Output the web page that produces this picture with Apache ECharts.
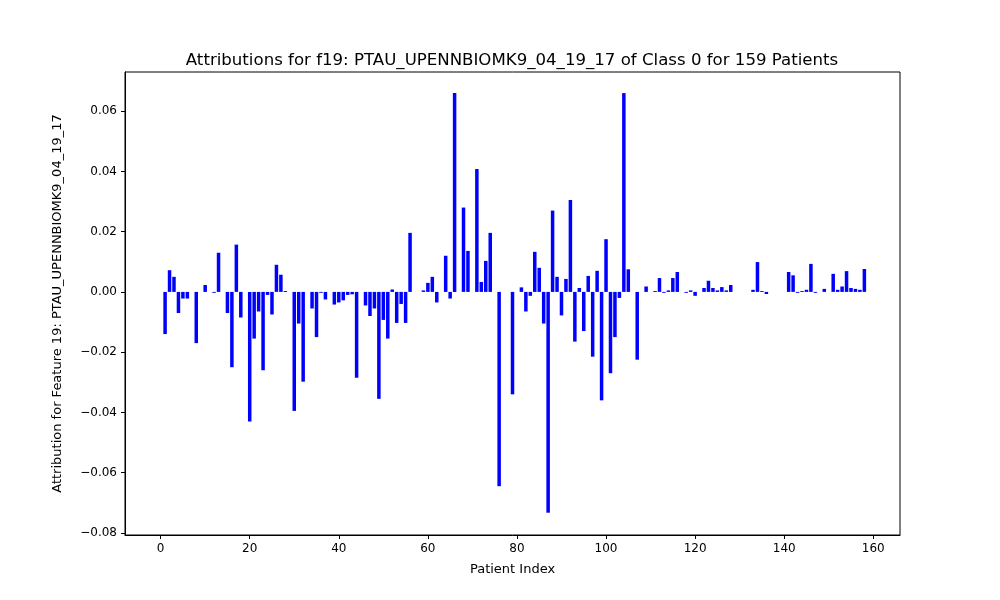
<!DOCTYPE html>
<html lang="en">
<head>
    <meta charset="UTF-8">
    <title>Attributions for f19</title>
    <script src="https://cdn.jsdelivr.net/npm/echarts@6/dist/echarts.min.js"></script>
</head>
<body style="margin:0">
<div id="main" style="width:1000px; height:600px;"></div>
<script>
    // attribution per patient index 0..158
    var attributions = [
        0, -0.014, 0.0072, 0.005, -0.007, -0.0022, -0.0022, 0, -0.017, 0,
        0.0023, 0, -0.0003, 0.013, 0, -0.007, -0.025, 0.0157, -0.0085, 0,
        -0.043, -0.0155, -0.0065, -0.026, -0.001, -0.0075, 0.009, 0.0057, 0.0003, 0,
        -0.0395, -0.0105, -0.0298, 0, -0.0055, -0.015, -0.0003, -0.0025, 0, -0.0042,
        -0.0035, -0.0028, -0.001, -0.0008, -0.0285, 0, -0.0045, -0.008, -0.0055, -0.0355,
        -0.0093, -0.0155, 0.0008, -0.0103, -0.004, -0.0103, 0.0196, 0, 0, 0.0005,
        0.003, 0.005, -0.0035, 0, 0.012, -0.0022, 0.066, 0, 0.028, 0.0136,
        0, 0.0408, 0.0033, 0.0103, 0.0196, 0, -0.0645, 0, 0, -0.034,
        0, 0.0015, -0.0065, -0.0013, 0.0133, 0.008, -0.0105, -0.0733, 0.027, 0.005,
        -0.0078, 0.0043, 0.0305, -0.0165, 0.0013, -0.013, 0.0053, -0.0215, 0.007, -0.036,
        0.0175, -0.027, -0.015, -0.002, 0.066, 0.0075, 0, -0.0225, 0, 0.0018,
        0, 0.0003, 0.0046, -0.0003, 0.0005, 0.0046, 0.0066, 0, -0.0003, 0.0005,
        -0.0013, 0, 0.0013, 0.0037, 0.0013, 0.0005, 0.0016, 0.0005, 0.0023, 0,
        0, 0, 0, 0.0007, 0.0099, 0.0003, -0.0007, 0, 0, 0,
        0, 0.0066, 0.0055, -0.0003, 0.0003, 0.0007, 0.0093, -0.0003, 0, 0.001,
        0, 0.006, 0.0007, 0.0018, 0.0069, 0.0013, 0.001, 0.0007, 0.0076
    ];
    var xTicks = [0, 20, 40, 60, 80, 100, 120, 140, 160];
    var yTicks = [-0.08, -0.06, -0.04, -0.02, 0, 0.02, 0.04, 0.06];

    var barData = attributions.map(function (v, i) { return [i, v]; });
    var font = 'DejaVu Sans';

    var chart = echarts.init(document.getElementById('main'));
    chart.setOption({
        animation: false,
        backgroundColor: '#fff',
        title: {
            text: 'Attributions for f19: PTAU_UPENNBIOMK9_04_19_17 of Class 0 for 159 Patients',
            left: 507, top: 47, textAlign: 'center',
            textStyle: { fontFamily: font, fontSize: 16.6, fontWeight: 'normal', color: '#000' }
        },
        grid: {
            left: 125, right: 100, top: 72, bottom: 65,
            show: true, borderColor: '#000', borderWidth: 1
        },
        xAxis: {
            type: 'value', min: -8, max: 166,
            name: 'Patient Index', nameLocation: 'middle', nameGap: 28,
            nameTextStyle: { fontFamily: font, fontSize: 13, color: '#000' },
            splitLine: { show: false },
            axisLine: { show: true, onZero: false, lineStyle: { color: '#000' } },
            axisTick: { show: true, inside: false, customValues: xTicks, length: 4, lineStyle: { color: '#000' } },
            axisLabel: { customValues: xTicks, fontFamily: font, fontSize: 12, color: '#000', margin: 8 }
        },
        yAxis: {
            type: 'value', min: -0.0807, max: 0.073,
            name: 'Attribution for Feature 19: PTAU_UPENNBIOMK9_04_19_17',
            nameLocation: 'middle', nameGap: 61,
            nameTextStyle: { fontFamily: font, fontSize: 13, color: '#000' },
            splitLine: { show: false },
            axisLine: { show: true, onZero: false, lineStyle: { color: '#000' } },
            axisTick: { show: true, inside: false, customValues: yTicks, length: 4, lineStyle: { color: '#000' } },
            axisLabel: {
                customValues: yTicks, fontFamily: font, fontSize: 12, color: '#000', margin: 8,
                formatter: function (v) { return (v < 0 ? '\u2212' : '') + Math.abs(v).toFixed(2); }
            }
        },
        series: [{
            type: 'bar',
            barWidth: 3.5,
            itemStyle: { color: '#0000ff' },
            data: barData
        }]
    });
</script>
</body>
</html>
